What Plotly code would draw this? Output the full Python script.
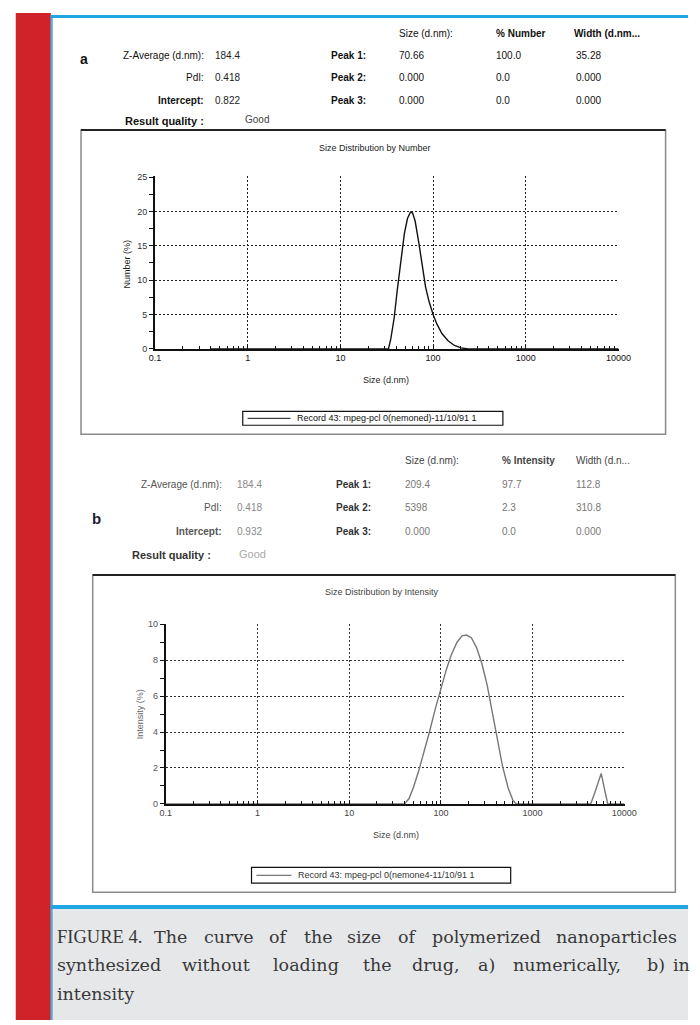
import plotly.graph_objects as go

# ---------------- data ----------------
size_a = [0.4, 30, 33, 35, 38, 41, 45, 49, 53, 57, 60, 64, 70, 76, 83, 90, 100, 110, 125, 145, 170, 200, 240, 10000]
number_a = [0, 0, 0, 1.5, 4.5, 8.5, 13, 16.8, 19, 19.9, 19.8, 18.6, 15.5, 12, 9, 7, 5, 3.6, 2.2, 1.2, 0.5, 0.15, 0, 0]

size_b = [0.1, 40, 45, 50, 57, 65, 75, 87, 100, 115, 130, 150, 170, 190, 215, 245, 280, 320, 360, 410, 470, 540, 610, 660,
          4300, 4900, 5600, 6100, 6600, 10000]
intensity_b = [0, 0, 0.3, 0.9, 1.8, 2.8, 4.0, 5.3, 6.4, 7.5, 8.3, 9.0, 9.35, 9.4, 9.25, 8.7, 7.8, 6.6, 5.2, 3.6, 2.1, 0.9, 0.2, 0,
               0, 0.8, 1.7, 0.8, 0, 0]

x_tickvals = [0.1, 1, 10, 100, 1000, 10000]
x_ticktext = ["0.1", "1", "10", "100", "1000", "10000"]
ya_ticks = [0, 5, 10, 15, 20, 25]
yb_ticks = [0, 2, 4, 6, 8, 10]

legend_a = "Record 43: mpeg-pcl 0(nemoned)-11/10/91 1"
legend_b = "Record 43: mpeg-pcl 0(nemone4-11/10/91 1"

# result tables
hdr_a = ["Size (d.nm):", "% Number", "Width (d.nm..."]
hdr_b = ["Size (d.nm):", "% Intensity", "Width (d.n..."]
left_labels = ["Z-Average (d.nm):", "PdI:", "Intercept:"]
left_vals_a = ["184.4", "0.418", "0.822"]
left_vals_b = ["184.4", "0.418", "0.932"]
peak_labels = ["Peak 1:", "Peak 2:", "Peak 3:"]
peaks_a = [["70.66", "100.0", "35.28"], ["0.000", "0.0", "0.000"], ["0.000", "0.0", "0.000"]]
peaks_b = [["209.4", "97.7", "112.8"], ["5398", "2.3", "310.8"], ["0.000", "0.0", "0.000"]]

caption_lines = [
    [("FIGURE 4.", 50), ("The", 150), ("curve", 201), ("of", 268), ("the", 304), ("size", 348),
     ("of", 400), ("polymerized", 435), ("nanoparticles", 562)],
    [("synthesized", 50), ("without", 179), ("loading", 272), ("the", 364), ("drug,", 415), ("a)", 482),
     ("numerically,", 518), ("b)", 656), ("in", 683)],
    [("intensity", 50)],
]

W, H = 700, 1025


def px(x):
    return x / W


def py(y):
    return 1 - y / H


NARROW = "Liberation Sans Narrow, Arial Narrow, Liberation Sans, Arial, sans-serif"
SANS = "Liberation Sans, Arial, sans-serif"
SERIF = "DejaVu Serif, Liberation Serif, serif"
SERIF_CAPS = "Liberation Serif, Times New Roman, serif"

fig = go.Figure()

fig.add_trace(go.Scatter(x=size_a, y=number_a, mode="lines", line=dict(color="#111", width=1.4),
                         xaxis="x", yaxis="y", showlegend=False, name=legend_a))
fig.add_trace(go.Scatter(x=size_b, y=intensity_b, mode="lines", line=dict(color="#777", width=1.4),
                         xaxis="x2", yaxis="y2", showlegend=False, name=legend_b))

minor_x = [m * 10 ** k for k in range(-1, 4) for m in range(2, 10)]

common_x = dict(type="log", range=[-1, 4.004], tickmode="array", tickvals=x_tickvals, ticktext=x_ticktext,
                showgrid=True, griddash="2px,2px", gridwidth=1, showline=True, linecolor="#111",
                ticks="inside", ticklen=4, tickcolor="#111", zeroline=False,
                minor=dict(tickmode="array", tickvals=minor_x, ticks="inside", ticklen=3, tickcolor="#111",
                           showgrid=False))
common_y = dict(showgrid=True, griddash="2px,2px", gridwidth=1, showline=True, linecolor="#111",
                linewidth=2, ticks="outside", ticklen=4, tickcolor="#111", zeroline=False, tickmode="array")

fig.update_layout(
    width=W, height=H, margin=dict(l=0, r=0, t=0, b=0), paper_bgcolor="white", plot_bgcolor="white",
    xaxis=dict(common_x, domain=[px(153), px(629)], anchor="y", gridcolor="#222", linewidth=1.5,
               tickfont=dict(family=NARROW, size=9, color="#111")),
    yaxis=dict(common_y, domain=[py(348), py(174)], anchor="x", range=[0, 25.08], tickvals=ya_ticks,
               gridcolor="#222", tickfont=dict(family=NARROW, size=9, color="#333"),
               minor=dict(tickmode="array", tickvals=[2.5, 7.5, 12.5, 17.5, 22.5], ticks="outside",
                          ticklen=4, tickcolor="#111", showgrid=False)),
    xaxis2=dict(common_x, domain=[px(164), px(635)], anchor="y2", gridcolor="#333", linewidth=1.5,
                tickfont=dict(family=NARROW, size=9, color="#444")),
    yaxis2=dict(common_y, domain=[py(807), py(625)], anchor="x2", range=[0, 10.04], tickvals=yb_ticks,
                gridcolor="#333", tickfont=dict(family=NARROW, size=9, color="#555"),
                minor=dict(tickmode="array", tickvals=[1, 3, 5, 7, 9], ticks="outside",
                           ticklen=4, tickcolor="#111", showgrid=False)),
)

shapes = []
# page decoration
shapes.append(dict(type="rect", x0=px(10), x1=px(46), y0=py(9), y1=py(1025), xref="paper", yref="paper",
                   fillcolor="#cf2229", line=dict(width=0), layer="below"))
shapes.append(dict(type="rect", x0=px(46), x1=px(48), y0=py(11), y1=py(1025), xref="paper", yref="paper",
                   fillcolor="#3fb2ea", line=dict(width=0)))
shapes.append(dict(type="rect", x0=px(46), x1=px(700), y0=py(11), y1=py(14), xref="paper", yref="paper",
                   fillcolor="#1fa6e3", line=dict(width=0)))
shapes.append(dict(type="rect", x0=px(48), x1=px(700), y0=py(913), y1=py(1025), xref="paper", yref="paper",
                   fillcolor="#e6e7e9", line=dict(width=0), layer="below"))
shapes.append(dict(type="rect", x0=px(46), x1=px(700), y0=py(909), y1=py(913), xref="paper", yref="paper",
                   fillcolor="#1fa6e3", line=dict(width=0)))

# chart frames
for (x0, x1, y0, y1) in [(77, 677, 127, 434), (89, 687, 576, 896)]:
    shapes.append(dict(type="rect", x0=px(x0), x1=px(x1), y0=py(y0), y1=py(y1), xref="paper", yref="paper",
                       line=dict(color="#8a8a8a", width=1.5), layer="below"))
    shapes.append(dict(type="line", x0=px(x0), x1=px(x1), y0=py(y0), y1=py(y0), xref="paper", yref="paper",
                       line=dict(color="#222", width=2)))

# legend boxes
for (x0, x1, y0, y1, lx1, name, col) in [(243, 510, 411, 425, 292, legend_a, "#111"),
                                         (252, 518, 871, 887, 293, legend_b, "#555")]:
    shapes.append(dict(type="rect", x0=px(x0), x1=px(x1), y0=py(y0), y1=py(y1), xref="paper", yref="paper",
                       line=dict(color="#111", width=1.2)))
    ym = (y0 + y1) / 2
    shapes.append(dict(type="line", x0=px(x0 + 5), x1=px(lx1), y0=py(ym), y1=py(ym), xref="paper",
                       yref="paper", line=dict(color=col, width=1)))

fig.update_layout(shapes=shapes)

ann = []


def text(t, x, y, size=10, color="#111", anchor="left", family=NARROW, bold=False):
    s = f"<b>{t}</b>" if bold else t
    ann.append(dict(text=s, x=px(x), y=py(y), xref="paper", yref="paper", xanchor=anchor, yanchor="middle",
                    showarrow=False, font=dict(family=family, size=size, color=color)))


# legend texts
text(legend_a, 297, 418, size=9, color="#111")
text(legend_b, 298, 879, size=9, color="#333")

# panel a table
text("a", 74, 55, size=14, color="#111", bold=True, family=SANS)
for t, x in zip(hdr_a, [401, 501, 581]):
    text(t, x, 30, size=10, color="#111", bold=(t != hdr_a[0]))
for i, yy in enumerate([52, 74, 97]):
    text(left_labels[i], 205, yy, size=10, color="#111", anchor="right", bold=(i == 2))
    text(left_vals_a[i], 212, yy, size=10, color="#222")
    text(peak_labels[i], 332, yy, size=10, color="#111", bold=True)
    for v, x in zip(peaks_a[i], [401, 501, 583]):
        text(v, x, yy, size=10, color="#111")
text("Result quality :", 120, 118, size=11, color="#111", bold=True)
text("Good", 243, 117, size=10, color="#444")

# panel b table
text("b", 86, 519, size=15, color="#1b1d3a", bold=True, family=SANS)
for t, x in zip(hdr_b, [407, 507, 583]):
    text(t, x, 461, size=10, color="#444", bold=(t == hdr_b[1]), family=SANS)
for i, yy in enumerate([485, 508, 532]):
    text(left_labels[i], 224, yy, size=10, color="#555", anchor="right", bold=(i == 2), family=SANS)
    text(left_vals_b[i], 235, yy, size=10, color="#888", family=SANS)
    text(peak_labels[i], 337, yy, size=10, color="#333", bold=True, family=SANS)
    for v, x in zip(peaks_b[i], [407, 507, 583]):
        text(v, x, yy, size=10, color="#777", family=SANS)
text("Result quality :", 127, 556, size=11, color="#333", bold=True, family=SANS)
text("Good", 237, 555, size=11, color="#aaa", family=SANS)

# chart titles and axis titles
text("Size Distribution by Number", 379, 145, size=9, color="#222", anchor="center")
text("Size Distribution by Intensity", 386, 593, size=9, color="#444", anchor="center")
text("Size (d.nm)", 390, 379, size=9, color="#222", anchor="center")
text("Size (d.nm)", 400, 838, size=9, color="#444", anchor="center")
ann.append(dict(text="Number (%)", x=px(124), y=py(262), xref="paper", yref="paper", textangle=-90,
                showarrow=False, xanchor="center", yanchor="middle",
                font=dict(family=NARROW, size=9, color="#222")))
ann.append(dict(text="Intensity (%)", x=px(137), y=py(716), xref="paper", yref="paper", textangle=-90,
                showarrow=False, xanchor="center", yanchor="middle",
                font=dict(family=NARROW, size=9, color="#666")))

# caption (justified word by word)
for line, yy in zip(caption_lines, [941, 970, 999]):
    for word, x in line:
        if word.isupper() or word.startswith("FIGURE"):
            text(word, x, yy, size=18.5, color="#383838", family=SERIF_CAPS)
        else:
            text(word, x, yy, size=17.5, color="#383838", family=SERIF)

fig.update_layout(annotations=ann)

fig.write_html("out.html", config={"displayModeBar": False},
               post_script="document.body.style.margin='0';document.body.style.overflow='hidden';")
